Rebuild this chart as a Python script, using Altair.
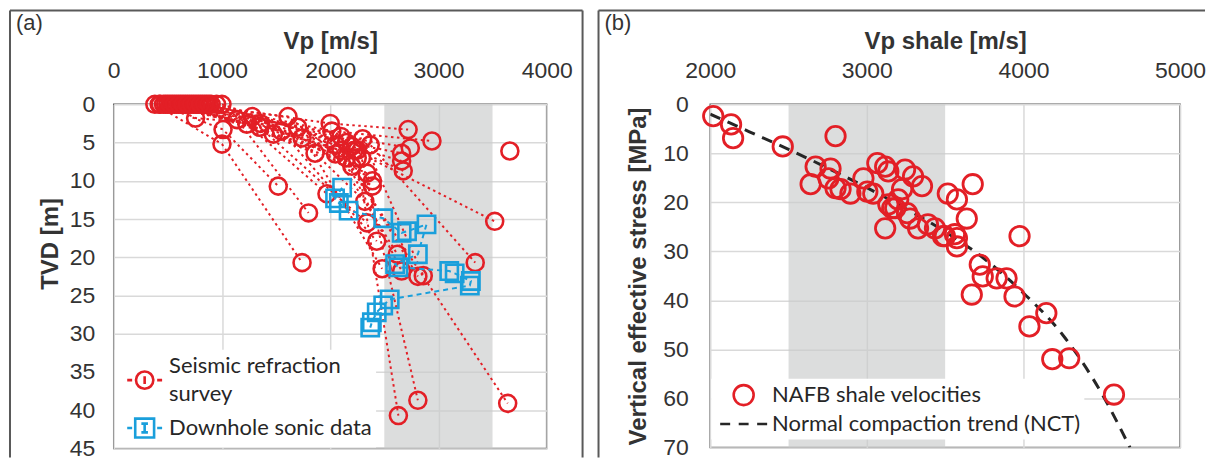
import altair as alt
import pandas as pd

RED = "#e31f26"
BLUE = "#1a9fdb"
DARK = "#333333"
FRAME = "#595959"

# ---------------- Panel (a) data ----------------
# Seismic refraction profiles: layer-1 velocity (at 0 m), layer-2 (Vp, depth), layer-3 (Vp, depth)
ref_l1_vp = [380, 420, 460, 500, 540, 580, 620, 660, 700, 740, 780, 820, 860, 900,
             950, 1000, 430, 480, 520, 560, 600, 640, 680, 720, 760, 800, 840, 880]
ref_l2_vp = [1000, 1010, 1140, 756, 1230, 1280, 1475, 1610, 1740, 1860, 2000, 2015, 2100, 2150,
             2200, 2250, 1350, 1550, 1700, 2050, 2100, 2300, 2150, 2220, 2370, 2250, 2290, 2050]
ref_l2_d = [5.2, 3.3, 2.0, 1.8, 2.6, 1.6, 3.9, 1.6, 4.4, 6.4, 2.5, 3.5, 4.2, 5.0,
            5.5, 6.0, 3.0, 3.5, 3.0, 6.5, 6.0, 4.5, 7.0, 6.0, 5.3, 7.0, 7.0, 5.3]
ref_l3_vp = [1740, 1520, 1800, 1355, 1970, 2200, 2340, 2390, 2390, 2320, 2720, 2940, 2740, 2660,
             2660, 2675, 2340, 2430, 2480, 2620, 2660, 2860, 2810, 3520, 3340, 2630, 2810, 3640]
ref_l3_d = [20.7, 10.7, 14.2, 2.5, 11.7, 8.1, 9.0, 10.0, 10.7, 12.7, 3.3, 4.8, 5.7, 6.4,
            7.4, 8.7, 15.5, 17.9, 21.5, 19.6, 21.8, 22.4, 22.5, 15.3, 20.7, 40.7, 38.7, 39.1]
ref_single_vp = [3660]
ref_single_d = [6.1]

# Downhole sonic data
sonic_vp = [2110, 2045, 2080, 2170, 2490, 2660, 2710, 2890, 2810, 2600, 2630, 3100, 3150,
            3300, 3290, 2550, 2490, 2430, 2385, 2370]
sonic_d = [10.9, 12.3, 12.9, 13.9, 14.9, 16.8, 16.6, 15.7, 19.6, 20.9, 21.3, 21.8, 22.1,
           23.1, 23.7, 25.5, 26.3, 27.2, 28.5, 29.2]

band_lo = [2500]
band_hi = [3500]

a_x_ticks = [0, 1000, 2000, 3000, 4000]
a_y_ticks = [0, 5, 10, 15, 20, 25, 30, 35, 40, 45]
a_series = ["Seismic refraction survey", "Downhole sonic data"]

# ---------------- Panel (b) data ----------------
nafb_vp = [2019, 2133, 2146, 2463, 2800, 2673, 2641, 2768, 2755, 2800, 2832, 2895, 2978, 3003,
           3041, 3067, 3117, 3137, 3117, 3137, 3181, 3162, 3200, 3225, 3244, 3257, 3276, 3295,
           3352, 3327, 3390, 3435, 3498, 3517, 3575, 3638, 3676, 3575, 3575, 3486, 3562, 3721,
           3670, 3740, 3829, 3892, 3943, 3975, 4146, 4038, 4184, 4292, 4578]
nafb_sig = [2.4, 4.1, 6.9, 8.6, 6.5, 12.7, 16.3, 13.1, 15.1, 17.1, 17.3, 18.2, 15.1, 17.8,
            18.2, 12.0, 12.7, 13.7, 25.3, 20.4, 21.2, 21.2, 19.4, 17.3, 13.3, 22.2, 23.3, 14.7,
            16.7, 25.3, 24.5, 25.3, 26.9, 18.2, 19.4, 23.3, 16.3, 27.3, 29.0, 26.9, 26.5, 32.7,
            38.8, 35.1, 35.5, 35.5, 39.2, 26.9, 42.6, 45.3, 52.0, 51.8, 59.2]
nct_vp = [2000, 2250, 2500, 2750, 3000, 3250, 3500, 3750, 4000, 4250, 4500, 4680]
nct_sig = [2.0, 5.6, 9.2, 13.0, 17.0, 21.3, 26.0, 31.5, 38.5, 47.0, 59.0, 70.0]

b_x_ticks = [2000, 3000, 4000, 5000]
b_y_ticks = [0, 10, 20, 30, 40, 50, 60, 70]
b_series = ["NAFB shale velocities", "Normal compaction trend (NCT)"]

# ---------------- build tables ----------------
rows = []
for i in range(len(ref_l1_vp)):
    rows.append({"profile": i, "seq": 0, "vp": ref_l1_vp[i], "depth": 0.0})
    rows.append({"profile": i, "seq": 1, "vp": ref_l2_vp[i], "depth": ref_l2_d[i]})
    rows.append({"profile": i, "seq": 2, "vp": ref_l3_vp[i], "depth": ref_l3_d[i]})
for j in range(len(ref_single_vp)):
    rows.append({"profile": 100 + j, "seq": 0, "vp": ref_single_vp[j], "depth": ref_single_d[j]})
ref_df = pd.DataFrame(rows)
sonic_df = pd.DataFrame({"seq": list(range(len(sonic_vp))), "vp": sonic_vp, "depth": sonic_d})
band_df = pd.DataFrame({"lo": band_lo, "hi": band_hi})
nafb_df = pd.DataFrame({"vp": nafb_vp, "sig": nafb_sig})
nct_df = pd.DataFrame({"vp": nct_vp, "sig": nct_sig})
one = pd.DataFrame({"k": [0]})

# ---------------- Panel (a) ----------------
WA, HA = 434, 345
xa = alt.Scale(domain=[0, 4000], nice=False, zero=False)
ya = alt.Scale(domain=[0, 45], nice=False, reverse=True)
ax_xa = alt.Axis(orient="top", values=a_x_ticks, format="d", title="Vp [m/s]", titleY=-56,
                 titleBaseline="alphabetic", labelPadding=27, labelBaseline="alphabetic",
                 labelFlush=False)
ax_ya = alt.Axis(values=a_y_ticks, format="d", title="TVD [m]", titleX=-56, titleY=139.5,
                 titleBaseline="alphabetic", labelPadding=19, labelFlush=False)


def XA(f):
    return alt.X(f, type="quantitative", scale=xa, axis=ax_xa)


def YA(f):
    return alt.Y(f, type="quantitative", scale=ya, axis=ax_ya)


# legend symbols (unit = 11 px); first one drawn 14 px lower to sit between two label lines
circ_a = ("M-1.59,1.27L-1.14,1.27M1.14,1.27L1.59,1.27"
          "M0.79,1.27A0.79,0.79,0,1,1,-0.79,1.27A0.79,0.79,0,1,1,0.79,1.27"
          "M0,0.92L0,1.62")
sq_a = ("M-1.59,0L-1.14,0M1.14,0L1.59,0M-0.86,-0.86L0.86,-0.86L0.86,0.86L-0.86,0.86Z"
        "M-0.3,-0.4L0.3,-0.4M0,-0.4L0,0.4M-0.3,0.4L0.3,0.4")
leg_a = alt.Legend(title=None, orient="none", legendX=1, legendY=246, padding=4,
                   symbolOffset=13.5, symbolSize=484, labelOffset=12, rowPadding=7,
                   labelExpr="datum.label == 'Seismic refraction survey' ? ['Seismic refraction', 'survey'] : datum.label")

band_a = alt.Chart(band_df).mark_rect(color="#c9cbcb", opacity=0.65).encode(
    x=XA("lo"), x2="hi", y=alt.value(0), y2=alt.value(HA))
ref_lines = alt.Chart(ref_df).mark_line(color=RED, strokeWidth=2, strokeDash=[2.5, 3.5]).encode(
    x=XA("vp"), y=YA("depth"), detail="profile:N", order="seq:Q")
ref_pts = alt.Chart(ref_df).mark_point(shape="circle", filled=False, color=RED, size=290,
                                       strokeWidth=2.6, opacity=1).encode(x=XA("vp"), y=YA("depth"))
son_line = alt.Chart(sonic_df).mark_line(color=BLUE, strokeWidth=2, strokeDash=[5, 4]).encode(
    x=XA("vp"), y=YA("depth"), order="seq:Q")
son_pts = alt.Chart(sonic_df).mark_point(shape="square", filled=False, color=BLUE, size=300,
                                         strokeWidth=2.6, opacity=1).encode(x=XA("vp"), y=YA("depth"))
legend_a = alt.Chart(sonic_df).transform_filter("false").transform_calculate(
    series="'x'").mark_point(filled=False).encode(
    x=XA("vp"), y=YA("depth"),
    color=alt.Color("series:N", scale=alt.Scale(domain=a_series, range=[RED, BLUE]), legend=leg_a),
    shape=alt.Shape("series:N", scale=alt.Scale(domain=a_series, range=[circ_a, sq_a]), legend=leg_a))
fa_left = alt.Chart(one).mark_rule(color=FRAME, strokeWidth=2).encode(
    x=alt.value(-104), y=alt.value(-94), y2=alt.value(354))
fa_top = alt.Chart(one).mark_rule(color=FRAME, strokeWidth=2).encode(
    x=alt.value(-104), x2=alt.value(470), y=alt.value(-94))
fa_right = alt.Chart(one).mark_rule(color=FRAME, strokeWidth=2).encode(
    x=alt.value(470), y=alt.value(-94), y2=alt.value(354))
lab_a = alt.Chart(pd.DataFrame({"t": ["(a)"]})).mark_text(
    align="left", baseline="alphabetic", font="Liberation Sans", fontSize=22, color=DARK).encode(
    x=alt.value(-98), y=alt.value(-74.5), text="t:N")

pa = alt.layer(band_a, ref_lines, ref_pts, son_line, son_pts, legend_a,
               fa_left, fa_top, fa_right, lab_a).properties(width=WA, height=HA)

# ---------------- Panel (b) ----------------
WB, HB = 471, 344
xb = alt.Scale(domain=[2000, 5000], nice=False, zero=False)
yb = alt.Scale(domain=[0, 70], nice=False, reverse=True)
ax_xb = alt.Axis(orient="top", values=b_x_ticks, format="d", title="Vp shale [m/s]", titleY=-56,
                 titleBaseline="alphabetic", labelPadding=27, labelBaseline="alphabetic",
                 labelFlush=False)
ax_yb = alt.Axis(values=b_y_ticks, format="d", title="Vertical effective stress [MPa]", titleX=-65,
                 titleBaseline="alphabetic", labelPadding=22, labelFlush=False)


def XB(f):
    return alt.X(f, type="quantitative", scale=xb, axis=ax_xb)


def YB(f):
    return alt.Y(f, type="quantitative", scale=yb, axis=ax_yb)


circ_b = "M0.91,0A0.91,0.91,0,1,1,-0.91,0A0.91,0.91,0,1,1,0.91,0"
dash_b = "M-2.14,0L-1.23,0M-0.45,0L0.45,0M1.23,0L2.14,0"
leg_b = alt.Legend(title=None, orient="none", legendX=1, legendY=275, padding=4,
                   symbolOffset=16, symbolSize=484, labelOffset=16, rowPadding=1)

band_b = alt.Chart(band_df).mark_rect(color="#c9cbcb", opacity=0.65).encode(
    x=XB("lo"), x2="hi", y=alt.value(0), y2=alt.value(HB))
nct_line = alt.Chart(nct_df).mark_line(color="#262626", strokeWidth=3, strokeDash=[11, 8],
                                       interpolate="monotone", clip=True).encode(
    x=XB("vp"), y=YB("sig"), order="sig:Q")
nafb_pts = alt.Chart(nafb_df).mark_point(shape="circle", filled=False, color=RED, size=380,
                                         strokeWidth=2.8, opacity=1).encode(x=XB("vp"), y=YB("sig"))
legend_b = alt.Chart(nafb_df).transform_filter("false").transform_calculate(
    series="'x'").mark_point(filled=False).encode(
    x=XB("vp"), y=YB("sig"),
    color=alt.Color("series:N", scale=alt.Scale(domain=b_series, range=[RED, "#262626"]), legend=leg_b),
    shape=alt.Shape("series:N", scale=alt.Scale(domain=b_series, range=[circ_b, dash_b]), legend=leg_b))
fb_left = alt.Chart(one).mark_rule(color=FRAME, strokeWidth=2).encode(
    x=alt.value(-112), y=alt.value(-94), y2=alt.value(354))
fb_top = alt.Chart(one).mark_rule(color=FRAME, strokeWidth=2).encode(
    x=alt.value(-112), x2=alt.value(496), y=alt.value(-94))
lab_b = alt.Chart(pd.DataFrame({"t": ["(b)"]})).mark_text(
    align="left", baseline="alphabetic", font="Liberation Sans", fontSize=22, color=DARK).encode(
    x=alt.value(-106), y=alt.value(-74.5), text="t:N")

pb = alt.layer(band_b, nct_line, nafb_pts, legend_b, fb_left, fb_top, lab_b).properties(
    width=WB, height=HB)

chart = alt.hconcat(pa, pb, spacing=12).properties(padding=0).resolve_scale(
    color="independent", shape="independent").resolve_legend(
    color="independent", shape="independent"
).configure_view(stroke=FRAME, strokeWidth=1.5).configure_axis(
    domain=False, ticks=False, tickSize=0, grid=True, gridColor="#d9d9d9", gridWidth=1.5,
    labelFont="Liberation Sans", labelFontSize=23, labelColor=DARK,
    titleFont="Liberation Sans", titleFontSize=24, titleFontWeight="bold", titleColor=DARK
).configure_legend(
    labelFont="Lato", labelFontSize=22, labelColor="#262626", labelLimit=600,
    symbolStrokeWidth=2.6, fillColor="white", symbolOpacity=1
)
chart.config.style = {"guide-label": {"lineHeight": 28}}

chart.save("out.html", embed_options={"renderer": "svg", "actions": False})
